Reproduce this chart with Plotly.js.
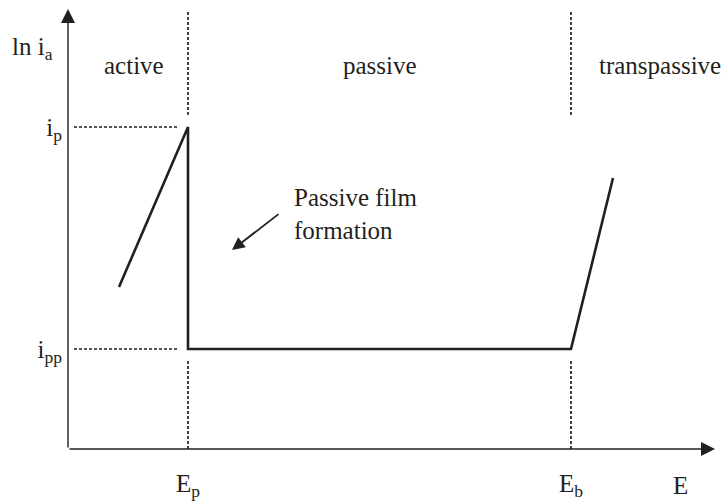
<!DOCTYPE html>
<html>
<head>
<meta charset="utf-8">
<script src="https://cdn.plot.ly/plotly-3.0.1.min.js"></script>
<style>
  html, body { margin: 0; padding: 0; background: #fff; }
  #chart { width: 726px; height: 502px; }
</style>
</head>
<body>
<div id="chart"></div>
<script>
// Schematic anodic polarization curve: potential E against ln of anodic current
const curveE   = [0.51, 1.20, 1.20, 5.03, 5.45];
const curveLnI = [1.62, 3.22, 1.00, 1.00, 2.71];

// Characteristic potentials and currents
const E_p = 1.20, E_b = 5.03;
const i_p = 3.22, i_pp = 1.00;

const xTickVals = [E_p, E_b];
const xTickText = ['E<sub>p</sub>', 'E<sub>b</sub>'];
const yTickVals = [i_p, i_pp];
const yTickText = ['i<sub>p</sub>', 'i<sub>pp</sub>'];

const regionNames   = ['active', 'passive', 'transpassive'];
const regionCenters = [0.66, 3.12, 5.92];

const ink = '#231f20';
const serif = "'Liberation Serif', 'Times New Roman', serif";
const xMax = 6.47, yMax = 4.40, dividerTop = 4.37;

// Dashed guides: region dividers and current levels
const guideX = [
  E_p, E_p, null, E_p, E_p, null,
  E_b, E_b, null, E_b, E_b, null,
  0.06, E_p - 0.10, null, 0.06, E_p - 0.10
];
const guideY = [
  dividerTop, i_p + 0.11, null, i_pp - 0.12, 0, null,
  dividerTop, i_p + 0.11, null, i_pp - 0.12, 0, null,
  i_p, i_p, null, i_pp, i_pp
];

const traces = [
  {
    x: guideX, y: guideY, mode: 'lines', hoverinfo: 'skip',
    line: { color: ink, width: 1.7, dash: '3px,2px' }
  },
  {
    x: curveE, y: curveLnI, mode: 'lines', hoverinfo: 'skip',
    line: { color: ink, width: 2.6 }
  }
];

const textFont = { family: serif, size: 25, color: ink };

const annotations = [
  // axes with arrow heads
  { x: 0, y: yMax, ax: 0, ay: 0, xref: 'x', yref: 'y', axref: 'x', ayref: 'y',
    text: '', showarrow: true, arrowhead: 2, arrowsize: 2, arrowwidth: 1.4, arrowcolor: ink },
  { x: xMax, y: 0, ax: 0, ay: 0, xref: 'x', yref: 'y', axref: 'x', ayref: 'y',
    text: '', showarrow: true, arrowhead: 2, arrowsize: 2, arrowwidth: 1.4, arrowcolor: ink },
  // axis titles (placed in paper space, outside the data range)
  { x: -0.02, y: 0.913, xref: 'paper', yref: 'paper', xanchor: 'right', yanchor: 'middle',
    text: 'ln i<sub>a</sub>', showarrow: false, font: textFont },
  { x: 0.946, y: -0.058, xref: 'paper', yref: 'paper', xanchor: 'center', yanchor: 'middle',
    text: 'E', showarrow: false, font: textFont },
  // film formation note
  { x: 2.24, y: 2.35, xref: 'x', yref: 'y', xanchor: 'left', yanchor: 'middle', align: 'left',
    text: 'Passive film<br>formation', showarrow: false, font: textFont },
  { x: 1.64, y: 1.99, ax: 2.12, ay: 2.36, xref: 'x', yref: 'y', axref: 'x', ayref: 'y',
    text: '', showarrow: true, arrowhead: 2, arrowsize: 1.4, arrowwidth: 1.8, arrowcolor: ink }
];

regionNames.forEach((name, k) => {
  annotations.push({
    x: regionCenters[k], y: 3.84, xref: 'x', yref: 'y',
    xanchor: 'center', yanchor: 'middle',
    text: name, showarrow: false, font: textFont
  });
});

const layout = {
  width: 726, height: 502,
  margin: { l: 68, r: 11, t: 9, b: 43 },
  paper_bgcolor: '#fff', plot_bgcolor: '#fff',
  showlegend: false,
  xaxis: {
    range: [0, xMax], showgrid: false, zeroline: false, showline: false,
    ticks: '', tickvals: xTickVals, ticktext: xTickText,
    tickfont: textFont, ticklabelstandoff: 7, fixedrange: true
  },
  yaxis: {
    range: [-0.1, yMax], showgrid: false, zeroline: false, showline: false,
    ticks: '', tickvals: yTickVals, ticktext: yTickText,
    tickfont: textFont, ticklabelstandoff: 5, fixedrange: true
  },
  annotations: annotations
};

Plotly.newPlot('chart', traces, layout, { displayModeBar: false, staticPlot: true });
</script>
</body>
</html>
